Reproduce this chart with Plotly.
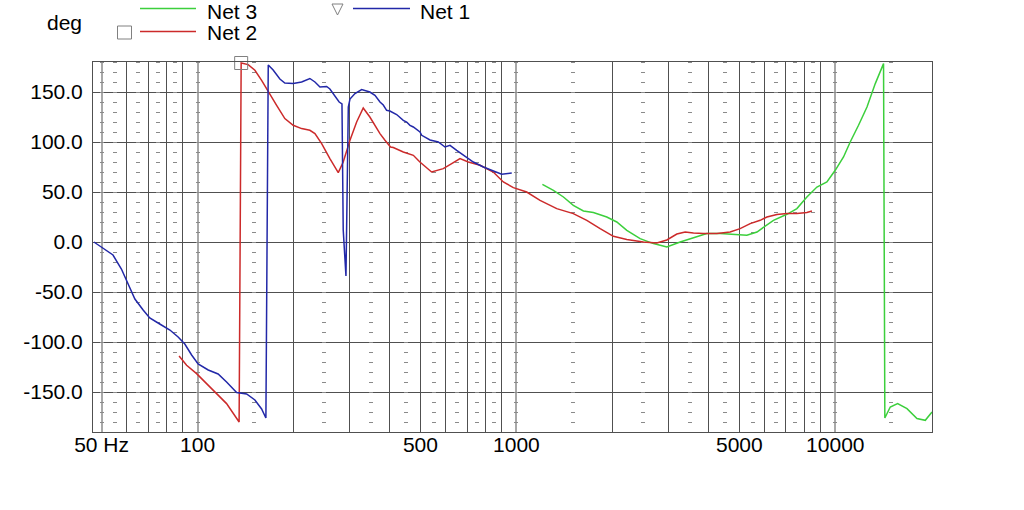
import math
import plotly.graph_objects as go

# ---------------- data ----------------
net1_freq = [47.3, 50.6, 54.3, 57.7, 60.6, 63.6, 67.5, 70.8, 76.1, 81.9, 86.9, 91.2, 95.8,
             100.4, 108, 116, 123.3, 132.6, 142.5, 151.3, 158.8, 163.8, 166.6, 172.6, 181.2,
             187.8, 199.5, 212, 225, 233.4, 242, 254, 260, 273, 278, 283.7, 286.3, 292, 295.1,
             297, 300.6, 311.6, 327, 347, 360, 373.3, 382.3, 391.7, 401, 421, 441.7, 452.6,
             463.6, 474.9, 498.3, 504.6, 535.8, 568.8, 597, 619, 649.6, 690, 732.4, 787.6,
             846.4, 899, 966.7]
net1_deg = [0, -6.6, -13, -27, -43, -57, -68, -76, -82, -88, -95, -102, -113,
            -122, -128, -132, -140, -150.6, -152, -158, -167, -176, 177, 172, 163,
            159, 158.5, 160, 163.5, 160, 155, 155.5, 153, 143, 140, 138, 12, -34, 50,
            135, 143, 148.4, 152.4, 150, 146.7, 140, 137, 131.7, 131, 127.5, 121.7, 120,
            116.7, 115, 110, 106.7, 102, 100, 95, 96.7, 91.7, 85.7, 80, 75,
            71, 67.7, 69]

net2_freq = [87.5, 92.4, 99.3, 106.7, 114.7, 123.3, 135, 137, 144.1, 151.3, 158.8, 166.6,
             177, 187.8, 199.5, 212, 225, 233.4, 245, 260, 273, 276.2, 286.3, 300.6, 315.4,
             330.8, 347, 364.5, 373.3, 387, 403, 411, 441.7, 475, 498, 542, 589.6, 626.6,
             665.3, 706.4, 769, 846, 909.6, 978, 1077, 1186, 1338, 1508, 1662, 1830, 2014,
             2219, 2502, 2755, 2962, 3184, 3381, 3591, 3858, 4251, 4679, 5029, 5408, 5813,
             6101, 6558, 7050, 7577, 8145, 8446]
net2_deg = [-114, -123.3, -131.6, -141.6, -151.6, -161.6, -180, 179, 177.4, 171.7, 161.7, 150,
            136.7, 123.4, 116.7, 113.4, 111.7, 108.4, 98.4, 83.4, 71.7, 69.4, 80, 101.7, 120,
            134, 125, 113.4, 108.4, 101.7, 95, 94.5, 90, 86.7, 80, 70, 73.4, 78.4,
            83.4, 80, 76.7, 70, 60, 54.4, 50, 41.7, 33.4, 28.4, 21.7, 13.4, 5.7,
            2.4, 0, -1, 2, 8, 10, 9, 8.4, 8.4, 10, 13.4, 18.4, 21.7,
            25, 27.4, 28.4, 28.4, 29.5, 31]

net3_freq = [1206, 1306, 1404, 1508, 1622, 1743, 1920, 2064, 2219, 2443, 2689, 2962, 3262,
             3591, 3954, 4354, 4793, 5279, 5679, 6101, 6397, 7050, 7577, 8145, 8757, 9410,
             9993, 10610, 11135, 11825, 12570, 13345, 14165, 14300, 14870, 15680, 16780,
             18030, 19150, 20100]
net3_deg = [57.7, 51.7, 45, 36.7, 31, 29.4, 25, 20, 11.7, 3.4, -1.6, -5, 0,
            4.4, 8.4, 8.4, 7.7, 6.7, 10, 16.7, 21.7, 27.7, 33.4, 45, 55, 60,
            71.7, 85, 100, 116.7, 135, 158.4, 178.4, -176, -165, -161.6, -166.6,
            -176.6, -178.3, -170]

x_tick_vals = [50, 100, 500, 1000, 5000, 10000]
x_tick_text = ["50 Hz", "100", "500", "1000", "5000", "10000"]
y_tick_vals = [-150, -100, -50, 0, 50, 100, 150]
y_tick_text = ["-150.0", "-100.0", "-50.0", "0.0", "50.0", "100.0", "150.0"]

grid_dark = [60, 70, 80, 90, 200, 300, 400, 500, 600, 700, 800, 900,
             2000, 3000, 4000, 5000, 6000, 7000, 8000, 9000]
grid_decade = [50, 100, 1000, 10000]
grid_minor = [50, 55, 65, 75, 85, 100, 150, 250, 350, 450, 550, 650, 750, 850, 1000,
              1500, 2500, 3500, 4500, 5500, 6500, 7500, 8500, 10000, 15000]

# ---------------- styling ----------------
W, H = 1024, 510
ML, MR, MT, MB = 93, 92, 62, 78
PW, PH = W - ML - MR, H - MT - MB
XR = [math.log10(47), math.log10(20100)]
YR = [-190, 180]
FONT = "Arial, Liberation Sans, sans-serif"
DARK = "#505050"
GREEN = "#3ccf3c"
RED = "#cc2a2a"
BLUE = "#2228a8"


def px(x):
    return (x - ML) / PW


def py(y):
    return (H - MB - y) / PH


fig = go.Figure()

# helper (empty) traces so the overlay grid axes exist
for ax in ["x2", "x3", "x4"]:
    fig.add_trace(go.Scatter(x=[], y=[], xaxis=ax, yaxis="y", showlegend=False,
                             hoverinfo="skip"))

fig.add_trace(go.Scatter(x=net3_freq, y=net3_deg, mode="lines", name="Net 3",
                         line=dict(color=GREEN, width=1.5)))
fig.add_trace(go.Scatter(x=net2_freq, y=net2_deg, mode="lines", name="Net 2",
                         line=dict(color=RED, width=1.5)))
fig.add_trace(go.Scatter(x=net1_freq, y=net1_deg, mode="lines", name="Net 1",
                         line=dict(color=BLUE, width=1.5)))

# square marker on Net 2 maximum
imax = max(range(len(net2_deg)), key=lambda i: net2_deg[i])
fig.add_trace(go.Scatter(x=[net2_freq[imax]], y=[net2_deg[imax]], mode="markers",
                         marker=dict(symbol="square-open", size=13, color="#808080",
                                     line=dict(width=1)),
                         cliponaxis=False, showlegend=False))

common_overlay = dict(type="log", range=XR, overlaying="x", anchor="y", showticklabels=False,
                      ticks="", showline=False, zeroline=False, tickmode="array")

fig.update_layout(
    width=W, height=H,
    margin=dict(l=ML, r=MR, t=MT, b=MB, pad=0),
    paper_bgcolor="white", plot_bgcolor="white",
    showlegend=False,
    font=dict(family=FONT, size=21, color="black"),
    xaxis=dict(type="log", range=XR, tickmode="array", tickvals=x_tick_vals,
               ticktext=x_tick_text, showgrid=False, showline=True, mirror=True,
               linecolor=DARK, linewidth=1, ticks="", zeroline=False,
               tickfont=dict(size=21), ticklabelstandoff=-6),
    xaxis2=dict(common_overlay, tickvals=grid_dark, showgrid=True, gridcolor=DARK, gridwidth=1),
    xaxis3=dict(common_overlay, tickvals=grid_decade, showgrid=True, gridcolor="#a8a8a8",
                gridwidth=2),
    xaxis4=dict(common_overlay, tickvals=grid_minor, showgrid=True, gridcolor="#8a8a8a",
                gridwidth=4, griddash="1px,9px"),
    yaxis=dict(range=YR, tickmode="array", tickvals=y_tick_vals, ticktext=y_tick_text,
               showgrid=True, gridcolor=DARK, gridwidth=1, showline=True, mirror=True,
               linecolor=DARK, linewidth=1, ticks="", zeroline=False,
               tickfont=dict(size=21), ticklabelstandoff=5),
)

# ---------------- custom legend / labels ----------------
ann = []
ann.append(dict(text="deg", x=px(64), y=py(23), xref="paper", yref="paper",
                showarrow=False, xanchor="center", yanchor="middle", font=dict(size=21)))
for label, xl, yl in [("Net 3", 205, 11), ("Net 2", 205, 33), ("Net 1", 418, 11)]:
    ann.append(dict(text=label, x=px(xl), y=py(yl), xref="paper", yref="paper",
                    showarrow=False, xanchor="left", yanchor="middle", font=dict(size=21)))
fig.update_layout(annotations=ann)

shapes = []
for col, x0, x1, yy in [(GREEN, 140, 196, 8.5), (RED, 140, 196, 31.5), (BLUE, 353, 410, 8.5)]:
    shapes.append(dict(type="line", xref="paper", yref="paper", x0=px(x0), x1=px(x1),
                       y0=py(yy), y1=py(yy), line=dict(color=col, width=1.5)))
shapes.append(dict(type="rect", xref="paper", yref="paper", x0=px(117.5), x1=px(131.5),
                   y0=py(26), y1=py(39), line=dict(color="#808080", width=1)))
shapes.append(dict(type="path", xref="paper", yref="paper",
                   path="M {} {} L {} {} L {} {} Z".format(px(332), py(4), px(343), py(4),
                                                         px(337.5), py(15)),
                   line=dict(color="#808080", width=1)))
fig.update_layout(shapes=shapes)

fig.write_html("out.html", config={"displayModeBar": False},
               post_script="document.body.style.margin='0px';")
